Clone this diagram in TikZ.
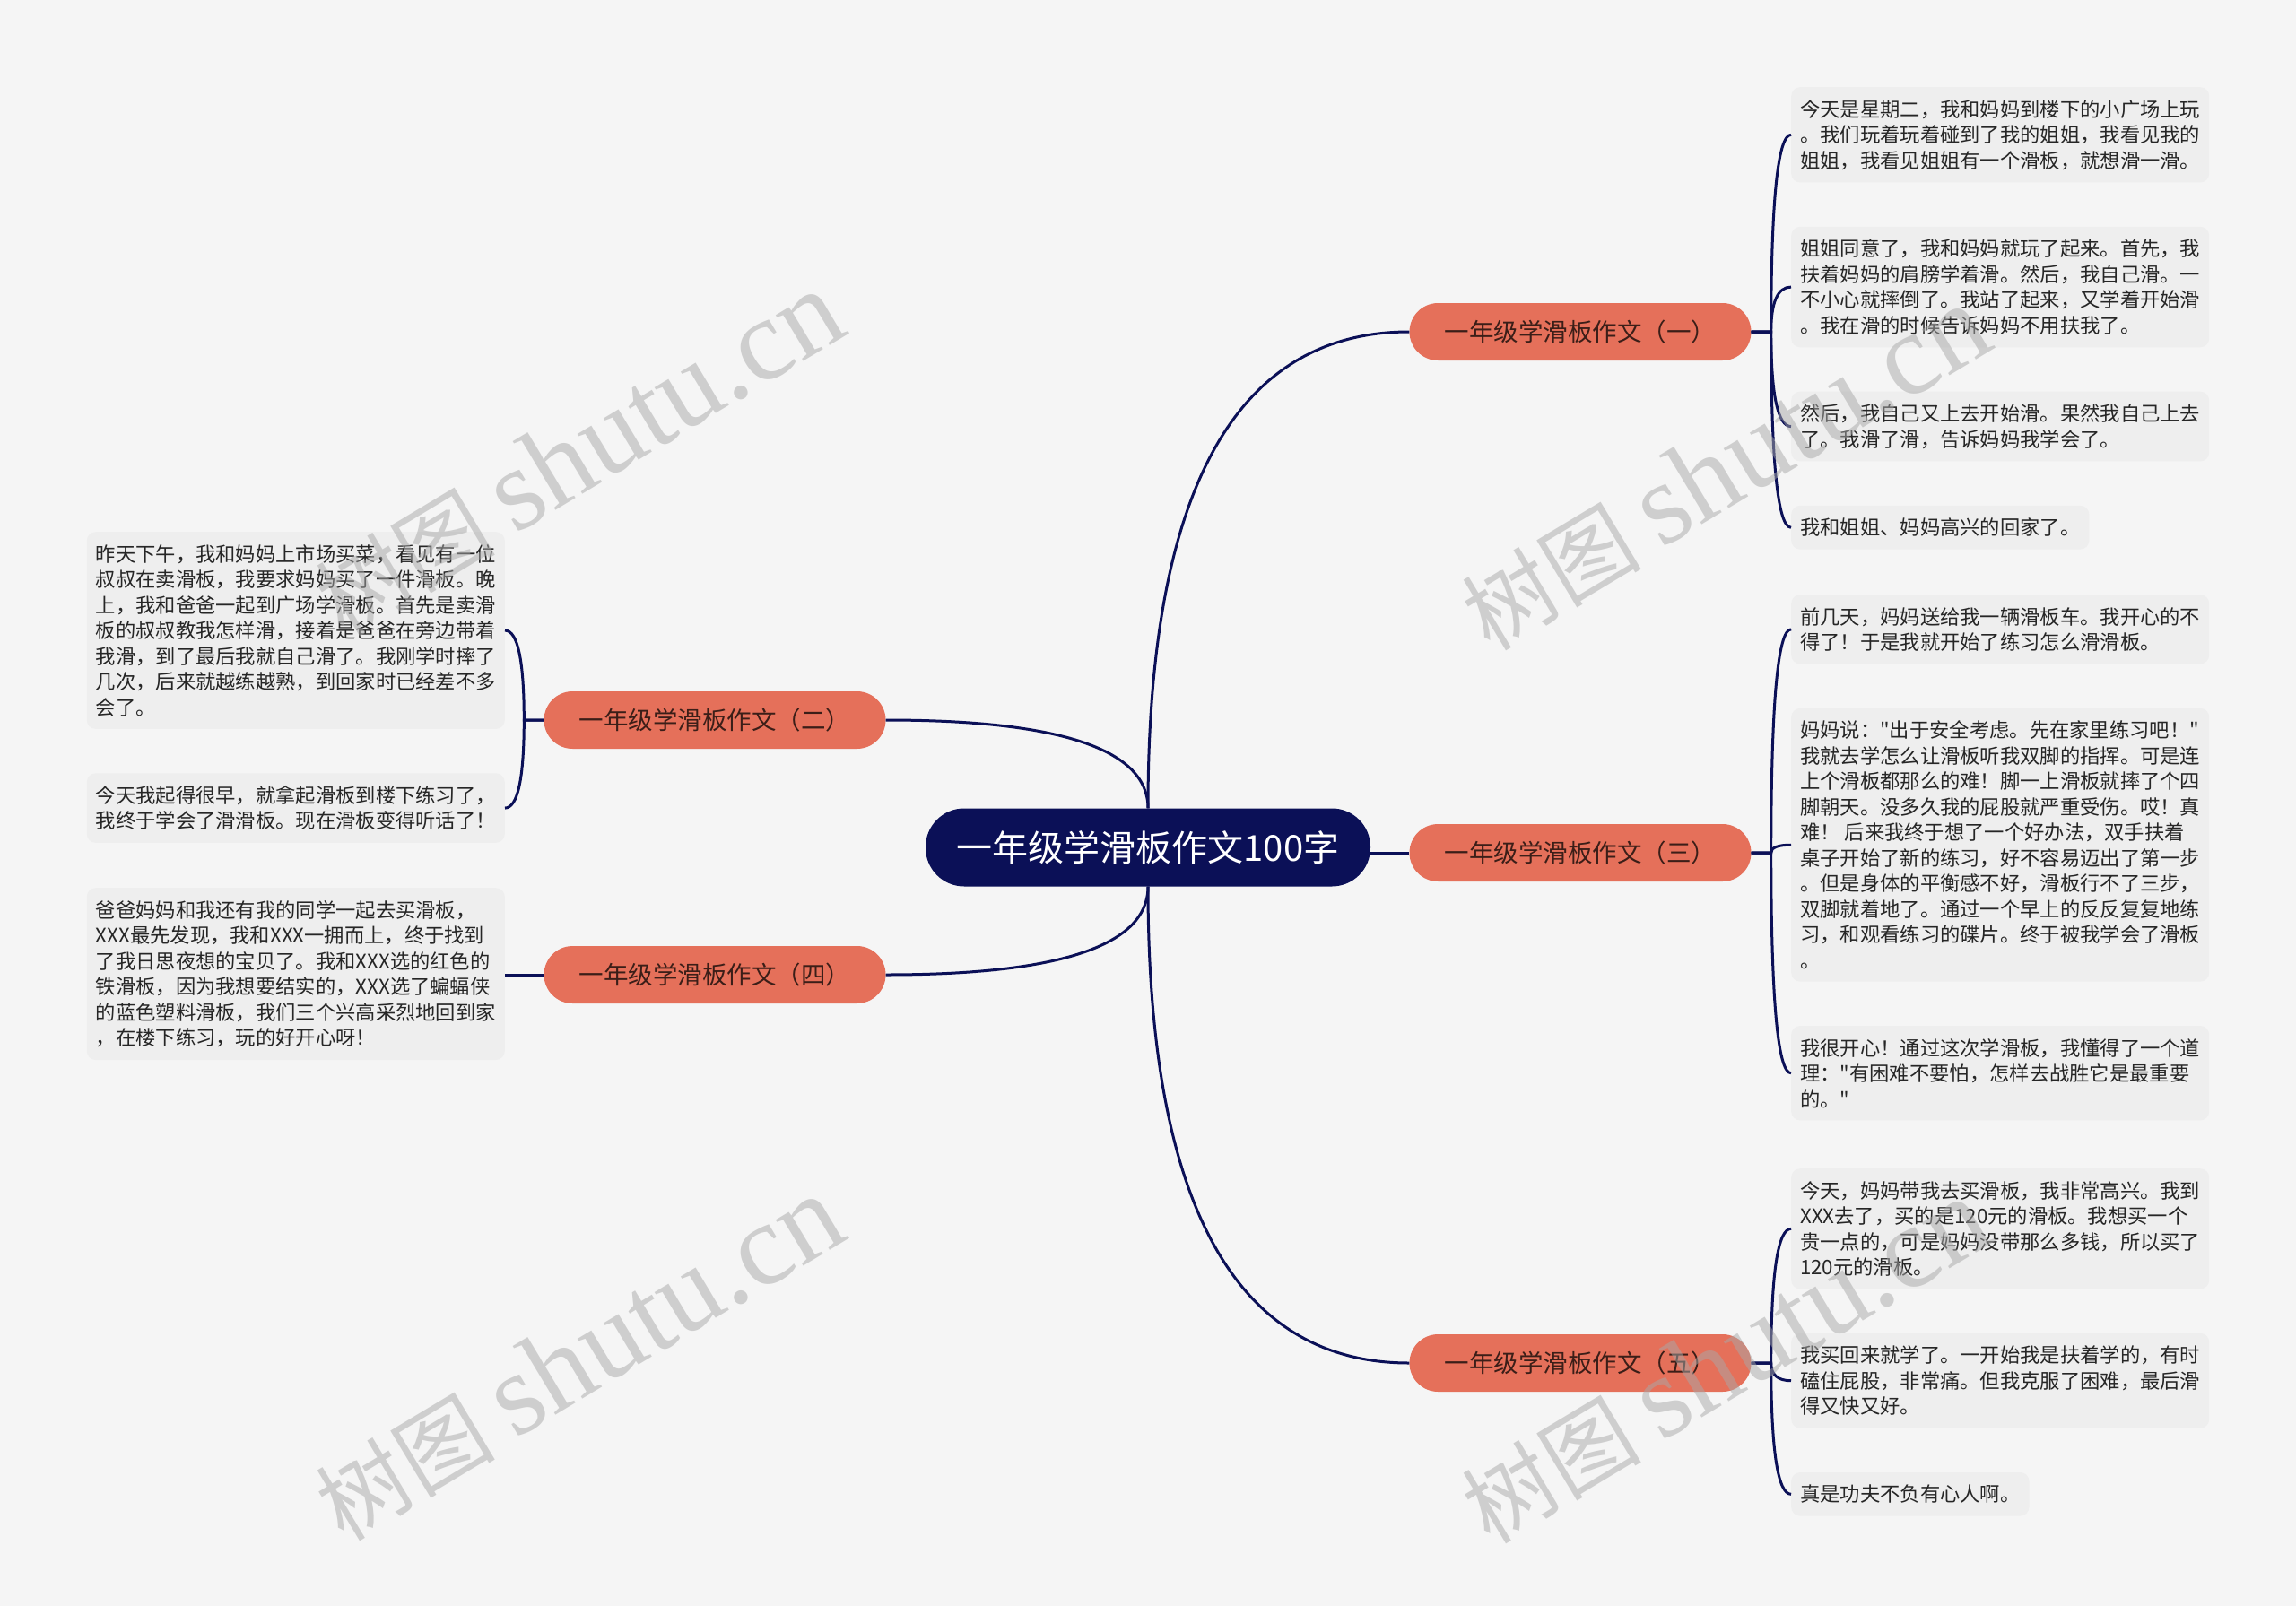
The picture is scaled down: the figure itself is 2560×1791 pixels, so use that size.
\documentclass[tikz,border=0pt]{standalone}
\usepackage{fontspec}
\setmainfont{Noto Sans CJK SC}[Ligatures=ResetAll]
\newfontfamily\cjk{Noto Sans CJK SC}
\newfontfamily\wmlatin{Liberation Serif}
\usetikzlibrary{positioning,calc}
\definecolor{navy}{HTML}{0B1057}
\definecolor{salmon}{HTML}{E5705A}
\definecolor{paper}{HTML}{F5F5F5}
\definecolor{leafbg}{HTML}{EEEEEE}
\definecolor{ink}{HTML}{262626}
\definecolor{topicink}{HTML}{3B1E18}
\definecolor{mark}{HTML}{A8A8A8}

\begin{document}
\begin{tikzpicture}[x=1pt, y=-1pt,
	root/.style = {fill=navy, text=white, rounded corners=43pt, minimum width=496pt, minimum height=87pt, inner sep=0pt, font=\cjk\fontsize{40}{48}\selectfont},
	topic/.style = {fill=salmon, text=topicink, rounded corners=32pt, minimum width=381pt, minimum height=64pt, inner sep=0pt, font=\cjk\fontsize{27.5}{33}\selectfont},
	leaf/.style = {fill=leafbg, text=ink, rounded corners=10pt, align=left, inner xsep=10pt, inner ysep=14pt, font=\cjk\fontsize{22.3}{28.5}\selectfont},
	wm/.style = {text=mark, opacity=0.5, rotate=31, font=\cjk\fontsize{100}{110}\selectfont}]
	\tikzset{edge/.style = {draw=navy, line width=3pt},
		qcurve/.style = {to path={.. controls ($(\tikztostart)!2/3!(\tikztostart|-\tikztotarget)$) and ($(\tikztotarget)!2/3!(\tikztostart|-\tikztotarget)$) .. (\tikztotarget)}}}

	\useasboundingbox[fill=paper] (0,0) rectangle (2560,1791);

	% centre and topics
	\node[root] (c) at (1280,945) {一年级学滑板作文100字};
	\node[topic] (l1) at (1762,370) {一年级学滑板作文（一）};
	\node[topic] (l2) at (797,803) {一年级学滑板作文（二）};
	\node[topic] (l3) at (1762,951) {一年级学滑板作文（三）};
	\node[topic] (l4) at (797,1087) {一年级学滑板作文（四）};
	\node[topic] (l5) at (1762,1520) {一年级学滑板作文（五）};

	% (一)
	\node[leaf, anchor=north west] (L1a) at (1997,97) {今天是星期二，我和妈妈到楼下的小广场上玩\\。我们玩着玩着碰到了我的姐姐，我看见我的\\姐姐，我看见姐姐有一个滑板，就想滑一滑。};
	\node[leaf] (L1b) [below right=49pt and 0pt of L1a.south west] {姐姐同意了，我和妈妈就玩了起来。首先，我\\扶着妈妈的肩膀学着滑。然后，我自己滑。一\\不小心就摔倒了。我站了起来，又学着开始滑\\。我在滑的时候告诉妈妈不用扶我了。};
	\node[leaf] (L1c) [below right=49pt and 0pt of L1b.south west] {然后，我自己又上去开始滑。果然我自己上去\\了。我滑了滑，告诉妈妈我学会了。};
	\node[leaf] (L1d) [below right=49pt and 0pt of L1c.south west] {我和姐姐、妈妈高兴的回家了。};

	% (二)
	\node[leaf, anchor=north east] (L2a) at (563,593) {昨天下午，我和妈妈上市场买菜，看见有一位\\叔叔在卖滑板，我要求妈妈买了一件滑板。晚\\上，我和爸爸一起到广场学滑板。首先是卖滑\\板的叔叔教我怎样滑，接着是爸爸在旁边带着\\我滑，到了最后我就自己滑了。我刚学时摔了\\几次，后来就越练越熟，到回家时已经差不多\\会了。};
	\node[leaf] (L2b) [below left=49pt and 0pt of L2a.south east] {今天我起得很早，就拿起滑板到楼下练习了，\\我终于学会了滑滑板。现在滑板变得听话了！};

	% (三)
	\node[leaf, anchor=north west] (L3a) at (1997,663) {前几天，妈妈送给我一辆滑板车。我开心的不\\得了！于是我就开始了练习怎么滑滑板。};
	\node[leaf] (L3b) [below right=49pt and 0pt of L3a.south west] {妈妈说："出于安全考虑。先在家里练习吧！"\\我就去学怎么让滑板听我双脚的指挥。可是连\\上个滑板都那么的难！脚一上滑板就摔了个四\\脚朝天。没多久我的屁股就严重受伤。哎！真\\难！ 后来我终于想了一个好办法，双手扶着\\桌子开始了新的练习，好不容易迈出了第一步\\。但是身体的平衡感不好，滑板行不了三步，\\双脚就着地了。通过一个早上的反反复复地练\\习，和观看练习的碟片。终于被我学会了滑板\\。};
	\node[leaf] (L3c) [below right=49pt and 0pt of L3b.south west] {我很开心！通过这次学滑板，我懂得了一个道\\理："有困难不要怕，怎样去战胜它是最重要\\的。"};

	% (四)
	\node[leaf, anchor=north east] (L4a) at (563,990) {爸爸妈妈和我还有我的同学一起去买滑板，\\XXX最先发现，我和XXX一拥而上，终于找到\\了我日思夜想的宝贝了。我和XXX选的红色的\\铁滑板，因为我想要结实的，XXX选了蝙蝠侠\\的蓝色塑料滑板，我们三个兴高采烈地回到家\\，在楼下练习，玩的好开心呀！};

	% (五)
	\node[leaf, anchor=north west] (L5a) at (1997,1303) {今天，妈妈带我去买滑板，我非常高兴。我到\\XXX去了，买的是120元的滑板。我想买一个\\贵一点的，可是妈妈没带那么多钱，所以买了\\120元的滑板。};
	\node[leaf] (L5b) [below right=49pt and 0pt of L5a.south west] {我买回来就学了。一开始我是扶着学的，有时\\磕住屁股，非常痛。但我克服了困难，最后滑\\得又快又好。};
	\node[leaf] (L5c) [below right=49pt and 0pt of L5b.south west] {真是功夫不负有心人啊。};

	% connectors
	\draw[edge] (c.north) to[qcurve] (l1.west);
	\draw[edge] (c.north) to[qcurve] (l2.east);
	\draw[edge] (c.east |- l3.west) -- (l3.west);
	\draw[edge] (c.south) to[qcurve] (l4.east);
	\draw[edge] (c.south) to[qcurve] (l5.west);

	\coordinate (b1) at ([xshift=22pt]l1.east);
	\coordinate (b2) at ([xshift=-22pt]l2.west);
	\coordinate (b3) at ([xshift=22pt]l3.east);
	\coordinate (b5) at ([xshift=22pt]l5.east);
	\foreach \n in {L1a,L1b,L1c,L1d}
		\draw[edge] (l1.east) -- (b1) to[qcurve] (\n.west);
	\foreach \n in {L2a,L2b}
		\draw[edge] (l2.west) -- (b2) to[qcurve] (\n.east);
	\foreach \n in {L3a,L3b,L3c}
		\draw[edge] (l3.east) -- (b3) to[qcurve] (\n.west);
	\foreach \n in {L5a,L5b,L5c}
		\draw[edge] (l5.east) -- (b5) to[qcurve] (\n.west);
	\draw[edge] (l4.west) -- (l4.west -| L4a.east);

	% watermarks
	\node[wm] (wm1) at (645,506) {树图 {\wmlatin\fontsize{130}{130}\selectfont shutu.cn}};
	\node[wm] (wm2) at (1923,522) {树图 {\wmlatin\fontsize{130}{130}\selectfont shutu.cn}};
	\node[wm] (wm3) at (645,1515) {树图 {\wmlatin\fontsize{130}{130}\selectfont shutu.cn}};
	\node[wm] (wm4) at (1923,1518) {树图 {\wmlatin\fontsize{130}{130}\selectfont shutu.cn}};
\end{tikzpicture}
\end{document}
